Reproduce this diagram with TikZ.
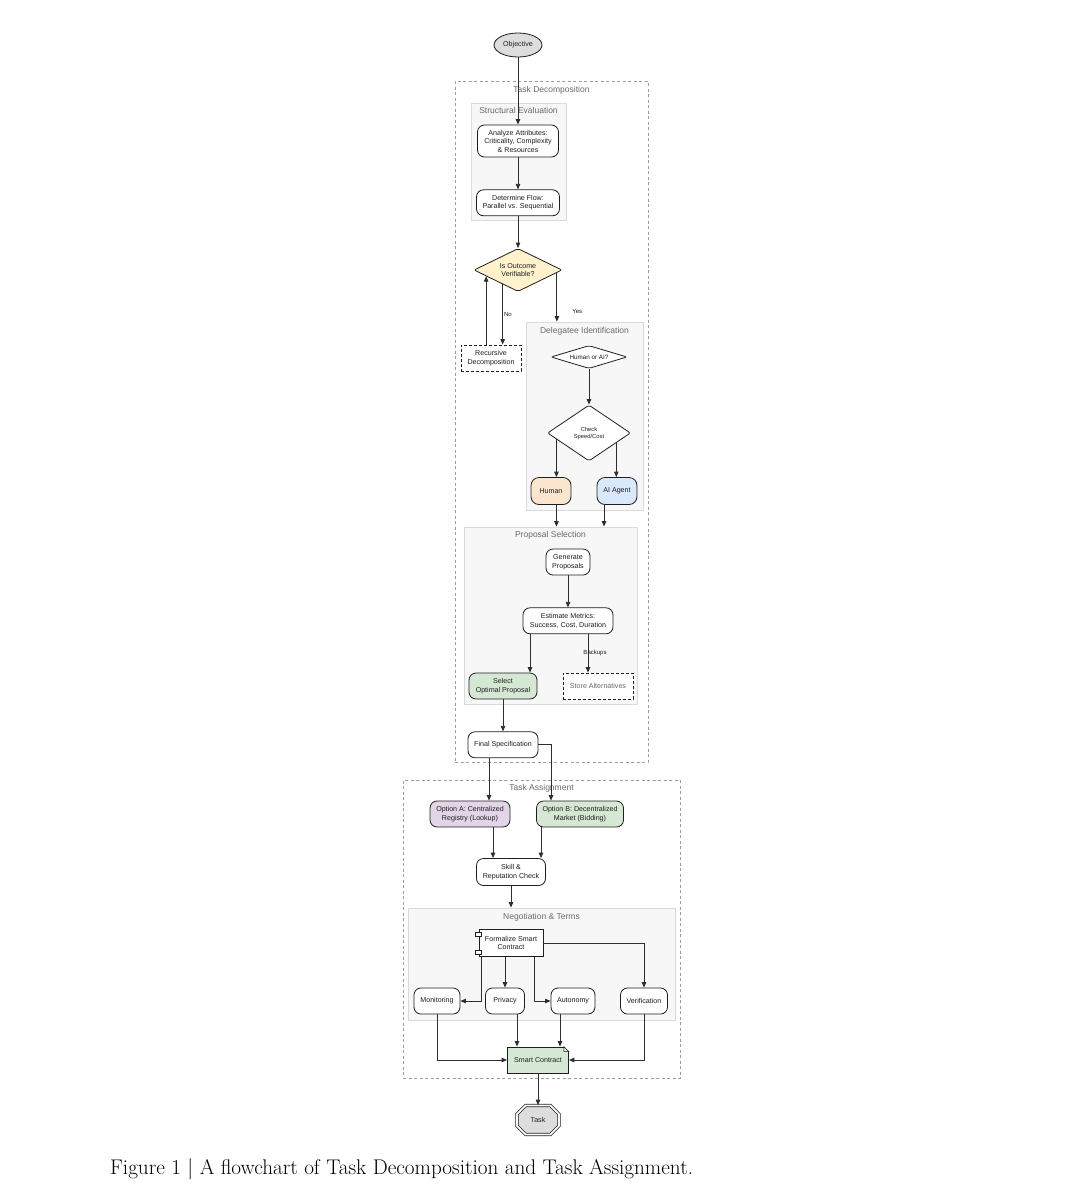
\documentclass[tikz,border=0pt]{standalone}
\usepackage{fontspec}
\usepackage{xcolor}
\usepackage{tikz}
\usetikzlibrary{shapes.geometric, shapes.misc, arrows.meta, positioning, calc, backgrounds}
\newfontfamily\diagfont{Liberation Sans}
\definecolor{ink}{HTML}{1E1E1E}
\definecolor{edge}{HTML}{2E2E2E}
\definecolor{muted}{HTML}{6A6A6A}
\definecolor{rule}{HTML}{9C9C9C}
\definecolor{panelbg}{HTML}{F7F7F7}
\definecolor{panelrule}{HTML}{DADADA}
\definecolor{grayfill}{HTML}{DDDDDD}
\definecolor{decide}{HTML}{FFF2CC}
\definecolor{peach}{HTML}{FCE5CD}
\definecolor{skyfill}{HTML}{DAE8FC}
\definecolor{sage}{HTML}{D5E8D4}
\definecolor{lilac}{HTML}{E1D5E7}
\tikzset{
  box/.style        = {draw=ink, line width=0.8pt, rectangle, rounded corners=7pt, fill=white,
                       align=center, inner sep=2pt, minimum height=26pt, text=ink,
                       font=\diagfont\fontsize{7.1}{8.5}\selectfont},
  boxdash/.style    = {box, rounded corners=0pt, dash pattern=on 3pt off 2pt},
  actor/.style      = {box, rounded corners=8pt, minimum width=40pt, minimum height=27pt},
  component/.style  = {box, rounded corners=0pt},
  notebox/.style    = {box, rounded corners=0pt, fill=sage},
  decision/.style   = {draw=ink, line width=0.8pt, diamond, rounded corners=2pt, fill=white,
                       align=center, inner sep=0pt, text=ink,
                       font=\diagfont\fontsize{7.1}{8.5}\selectfont},
  startbox/.style   = {draw=ink, line width=0.8pt, ellipse, fill=grayfill, inner sep=0pt,
                       minimum width=48pt, minimum height=24pt, text=ink,
                       font=\diagfont\fontsize{7.1}{8.5}\selectfont},
  endbox/.style     = {draw=ink, line width=0.7pt, chamfered rectangle, chamfered rectangle xsep=6pt,
                       chamfered rectangle ysep=6pt, fill=grayfill, double=white, double distance=1.8pt,
                       inner sep=0pt, minimum width=42pt, minimum height=29pt, text=ink,
                       font=\diagfont\fontsize{7.1}{8.5}\selectfont},
  flow/.style       = {-{Triangle[length=5.5pt,width=4.5pt]}, draw=edge, line width=0.8pt},
  panelbox/.style   = {draw=panelrule, fill=panelbg, line width=0.8pt, inner sep=0pt},
  groupbox/.style   = {draw=rule, line width=0.8pt, dash pattern=on 3pt off 2.5pt, inner sep=0pt},
  grouplabel/.style = {font=\diagfont\fontsize{8.5}{10}\selectfont, text=muted, inner sep=1pt},
  edgelabel/.style  = {font=\diagfont\fontsize{6}{7}\selectfont, text=ink, inner sep=1pt},
  caption/.style    = {font=\fontsize{21.2}{24}\selectfont, text=black, inner sep=0pt},
}

\begin{document}
\begin{tikzpicture}[x=1pt, y=-1pt]
  \useasboundingbox (0,0) rectangle (1078,1200);

  \begin{scope}[on background layer]
    \node[groupbox, minimum width=193pt, minimum height=681pt] (decomp) at (551.5,421.5) {};
    \node[panelbox, minimum width=95pt, minimum height=117pt] (struct) at (518.5,161.5) {};
    \node[panelbox, minimum width=117pt, minimum height=188pt] (deleg) at (584.5,416) {};
    \node[panelbox, minimum width=173pt, minimum height=177pt] (prop) at (550.5,615.5) {};
    \node[groupbox, minimum width=277pt, minimum height=298pt] (assign) at (541.5,929) {};
    \node[panelbox, minimum width=267pt, minimum height=112pt] (nego) at (541.5,964) {};
  \end{scope}

  \node[grouplabel, below=4.5pt of decomp.north] (decomplbl) {Task Decomposition};
  \node[grouplabel, below=3.5pt of struct.north] (structlbl) {Structural Evaluation};
  \node[grouplabel, below=5pt of deleg.north] (deleglbl) {Delegatee Identification};
  \node[grouplabel, below=3.5pt of prop.north] (proplbl) {Proposal Selection};
  \node[grouplabel, below=3.5pt of assign.north] (assignlbl) {Task Assignment};
  \node[grouplabel, below=4.5pt of nego.north] (negolbl) {Negotiation \& Terms};

  % decomposition
  \node[startbox] (obj) at (518,45) {Objective};
  \node[box, minimum width=81pt, minimum height=32pt] (analyze) at (518,141)
    {Analyze Attributes:\\Criticality, Complexity\\\& Resources};
  \node[box, minimum width=83pt, below=32pt of analyze] (flowtype) {Determine Flow:\\Parallel vs. Sequential};
  \node[decision, fill=decide, aspect=2, minimum width=88pt, minimum height=43pt] (verif) at (518,270)
    {Is Outcome\\Verifiable?};
  \node[boxdash, minimum width=60pt] (recur) at (491,358) {Recursive\\Decomposition};

  % delegatee
  \node[decision, aspect=3.3, minimum width=76pt, minimum height=23pt,
        font=\diagfont\fontsize{6.3}{7.5}\selectfont] (who) at (589,357) {Human or AI?};
  \node[decision, aspect=1.5, minimum width=83pt, minimum height=56pt,
        font=\diagfont\fontsize{5.8}{7}\selectfont] (check) at (589,433) {Check\\Speed/Cost};
  \node[actor, fill=peach] (human) at (551,491) {Human};
  \node[actor, fill=skyfill] (agent) at (617,491) {AI Agent};

  % proposals
  \node[box, minimum width=44pt] (gen) at (568,562) {Generate\\Proposals};
  \node[box, minimum width=90pt, below=32pt of gen] (metrics) {Estimate Metrics:\\Success, Cost, Duration};
  \node[box, fill=sage, minimum width=68pt] (select) at (503,686) {Select\\Optimal Proposal};
  \node[boxdash, minimum width=70pt, text=muted] (store) at (598,686) {Store Alternatives};
  \node[box, minimum width=70pt, below=32pt of select] (spec) {Final Specification};

  % assignment
  \node[box, fill=lilac, minimum width=80pt] (optA) at (470,814) {Option A: Centralized\\Registry (Lookup)};
  \node[box, fill=sage, minimum width=87pt] (optB) at (580,814) {Option B: Decentralized\\Market (Bidding)};
  \node[box, minimum width=69pt, minimum height=27pt] (skill) at (511,872) {Skill \&\\Reputation Check};
  \node[component, minimum width=64pt, minimum height=27pt] (formal) at (511,943) {Formalize Smart\\Contract};
  \draw[draw=ink, fill=white, line width=0.6pt] ([xshift=-3pt,yshift=10.5pt]formal.west) rectangle ++(6pt,-3.5pt);
  \draw[draw=ink, fill=white, line width=0.6pt] ([xshift=-3pt,yshift=-7.5pt]formal.west) rectangle ++(6pt,-3.5pt);
  \node[box, minimum width=46pt] (monitor) at (437,1001) {Monitoring};
  \node[box, minimum width=39pt] (privacy) at (505,1001) {Privacy};
  \node[box, minimum width=44pt] (autonomy) at (573,1001) {Autonomy};
  \node[box, minimum width=47pt] (verify) at (644,1001) {Verification};
  \node[notebox, minimum width=61pt] (smart) at (538,1060) {Smart Contract};
  \fill[white] ([xshift=-5pt]smart.north east) -- ([xshift=1pt,yshift=1pt]smart.north east)
    -- ([yshift=-5pt]smart.north east) -- cycle;
  \draw[draw=ink, line width=0.6pt] ([xshift=-5pt]smart.north east) -- ([yshift=-5pt]smart.north east)
    -- ([xshift=-5pt,yshift=-5pt]smart.north east) -- cycle;
  \node[endbox] (task) at (538,1120) {Task};

  \node[caption, anchor=base west] (cap) at (110,1174)
    {Figure 1 | A flowchart of Task Decomposition and Task Assignment.};

  % connectors
  \draw[flow] (obj) -- (analyze);
  \draw[flow] (analyze) -- (flowtype);
  \draw[flow] (flowtype) -- (verif);
  \draw[flow] (verif.223) -- (verif.223 |- recur.north) node[edgelabel, midway, right] {No};
  \draw[flow] (verif.191 |- recur.north) -- (verif.191);
  \draw[flow] (verif.-4) -- (verif.-4 |- deleg.north) node[edgelabel, pos=0.8, right=14pt] {Yes};

  \draw[flow] (who) -- (check);
  \draw[flow] (check.191) -- (check.191 |- human.north);
  \draw[flow] (check.-20) -- (check.-20 |- agent.north);
  \draw[flow] (check.191 |- human.south) -- (check.191 |- prop.north);
  \coordinate (aiout) at ([xshift=-13pt]agent.south);
  \draw[flow] (aiout) -- (aiout |- prop.north);

  \draw[flow] (gen) -- (metrics);
  \coordinate (m1) at ([xshift=-38pt]metrics.south);
  \draw[flow] (m1) -- (m1 |- select.north);
  \coordinate (m2) at ([xshift=20pt]metrics.south);
  \draw[flow] (m2) -- (m2 |- store.north) node[edgelabel, midway, xshift=7pt] {Backups};
  \draw[flow] (select) -- (spec);

  \coordinate (s1) at ([xshift=-14pt]spec.south);
  \draw[flow] (s1) -- (s1 |- optA.north);
  \coordinate (s2) at ([xshift=-29pt]optB.north);
  \draw[flow] (spec.east) -| (s2);
  \coordinate (a1) at ([xshift=23pt]optA.south);
  \draw[flow] (a1) -- (a1 |- skill.north);
  \coordinate (b1) at ([xshift=-39pt]optB.south);
  \draw[flow] (b1) -- (b1 |- skill.north);
  \draw[flow] (skill) -- (skill |- nego.north);

  \coordinate (f1) at ([xshift=3pt]formal.south west);
  \draw[flow] (f1) |- (monitor.east);
  \draw[flow] (formal.south -| privacy.north) -- (privacy.north);
  \coordinate (f2) at ([xshift=-9pt]formal.south east);
  \draw[flow] (f2) |- (autonomy.west);
  \draw[flow] (formal.east) -| (verify.north);

  \draw[flow] (monitor.south) |- (smart.west);
  \coordinate (p1) at ([xshift=12pt]privacy.south);
  \draw[flow] (p1) -- (p1 |- smart.north);
  \coordinate (p2) at ([xshift=-13pt]autonomy.south);
  \draw[flow] (p2) -- (p2 |- smart.north);
  \draw[flow] (verify.south) |- (smart.east);
  \draw[flow] (smart) -- (task);
\end{tikzpicture}
\end{document}
